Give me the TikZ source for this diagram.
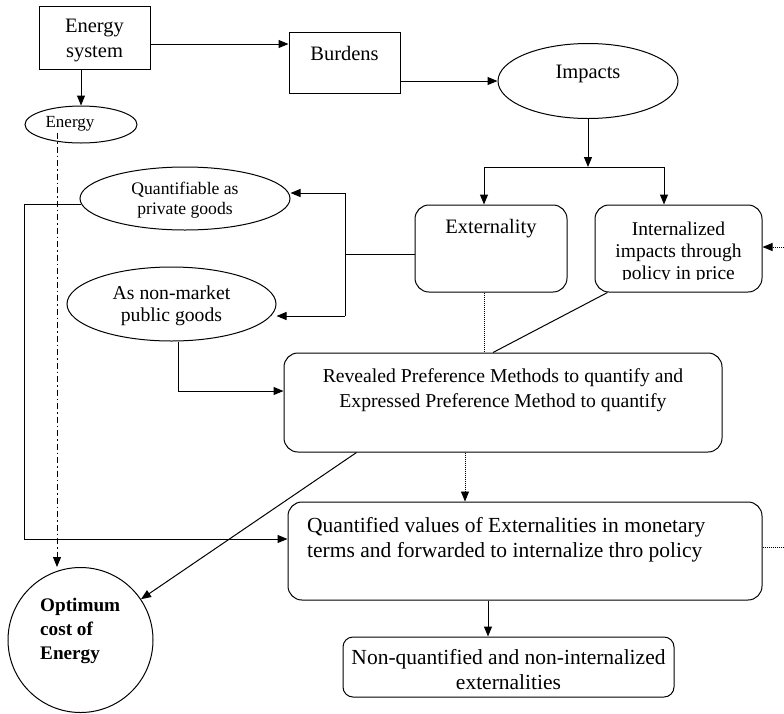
\documentclass[tikz,border=0pt]{standalone}
\usepackage{fontspec}
\setmainfont{Liberation Serif}
\usetikzlibrary{arrows.meta,shapes.geometric,calc}

\tikzset{
  line/.style={line width=1pt},
  arr/.style={line, -{Triangle[length=10pt,width=8pt]}},
  dotline/.style={line width=0.9pt, dash pattern=on 1pt off 1pt},
  dashdotline/.style={line width=1pt, dash pattern=on 6pt off 3pt on 1.5pt off 3pt},
  plainbox/.style={draw, line width=1pt, inner sep=0pt},
  roundbox/.style={plainbox, rounded corners=14pt},
  oval/.style={draw, ellipse, line width=1pt, inner sep=0pt},
  txt/.style={align=center, inner sep=0pt, font=\fontsize{20.5}{25}\selectfont},
}

\begin{document}
\begin{tikzpicture}[x=1pt,y=-1pt]
\useasboundingbox (0,0) rectangle (784,713);

% ---- shapes ----
\node[plainbox, minimum width=111pt, minimum height=63pt] (esys) at (94.5,37.5) {};
\node[plainbox, minimum width=111pt, minimum height=61pt] (burd) at (344.5,62.5) {};
\node[oval, minimum width=180pt, minimum height=75pt] (imp) at (588,81) {};
\node[oval, minimum width=112pt, minimum height=37pt] (energy) at (81,124.5) {};
\node[oval, minimum width=210pt, minimum height=63pt] (quant) at (185,198.5) {};
\node[oval, minimum width=209pt, minimum height=74pt] (nonm) at (171.5,304) {};
\node[roundbox, minimum width=152pt, minimum height=87pt] (ext) at (491,248.5) {};
\node[roundbox, minimum width=167pt, minimum height=87pt] (intz) at (678.5,248.5) {};
\node[roundbox, minimum width=438pt, minimum height=99pt] (rev) at (503,402.5) {};
\node[roundbox, minimum width=474pt, minimum height=98pt] (qv) at (525,551) {};
\node[plainbox, rounded corners=10pt, minimum width=331pt, minimum height=60pt] (nq) at (508.5,667) {};
\node[draw, circle, line width=1pt, minimum size=145pt, inner sep=0pt] (opt) at (80.5,640) {};

% ---- texts ----
\node[txt] (esyst) at (94.5,40) {Energy\\system};
\node[txt] (burdt) at (344.5,53) {Burdens};
\node[txt] (impt) at (588,74) {Impacts};
\node[txt, font=\fontsize{17}{20}\selectfont] (energyt) at (70,124) {Energy};
\node[txt, font=\fontsize{17.6}{20}\selectfont] (quantt) at (185,200) {Quantifiable as\\private goods};
\node[txt, font=\fontsize{19.7}{22}\selectfont] (nonmt) at (171.5,306) {As non-market\\public goods};
\node[txt] (extt) at (491,229) {Externality};
\begin{scope}
  \clip (intz.north west) rectangle ($(intz.south east)+(0,-13)$);
  \node[txt, font=\fontsize{19.5}{22}\selectfont] (intzt) at (678.5,253) {Internalized\\impacts through\\policy in price};
\end{scope}
\node[txt, font=\fontsize{19.7}{25}\selectfont] (revt) at (503,390.5)
  {Revealed Preference Methods to quantify and\\Expressed Preference Method to quantify};
\node[txt, align=left, anchor=west, font=\fontsize{21.5}{25}\selectfont] (qvt) at (307,539.5)
  {Quantified values of Externalities in monetary\\terms and forwarded to internalize thro policy};
\node[txt, font=\fontsize{21.5}{25}\selectfont] (nqt) at (508.5,669.5)
  {Non-quantified and non-internalized\\externalities};
\node[txt, align=left, anchor=west, font=\bfseries\fontsize{19.2}{24}\selectfont] (optt) at (40,631)
  {Optimum\\cost of\\Energy};

% ---- connectors ----
\draw[arr] ($(esys.east)+(0,6.5)$) coordinate (eb) -- (eb -| burd.west);
\draw[arr] (esys.south -| energy.north) -- (energy.north);
\draw[arr] (imp.west -| burd.east) -- (imp.west);

\coordinate (split) at (588,167);
\coordinate (splitL) at (484,167);
\coordinate (splitR) at (664,167);
\draw[arr] (imp.south) -- (split);
\draw[line] (splitL) -- (splitR);
\draw[arr] (splitL) -- (splitL |- ext.north);
\draw[arr] (splitR) -- (splitR |- intz.north);

\coordinate (fork) at (345,254);
\coordinate (forkT) at (345,193);
\coordinate (forkB) at (345,316);
\draw[line] (fork -| ext.west) -- (fork);
\draw[line] (forkT) -- (forkB);
\draw[arr] (forkT) -- (forkT -| quant.east);
\draw[arr] (forkB) -- (forkB -| nonm.east);

\draw[arr] ($(nonm.south)+(6.5,0)$) |- ($(rev.west)+(0,-11.5)$);
\draw[dotline] (ext.south -| splitL) -- (rev.north -| splitL);
\draw[line] ($(intz.south west)+(13,0)$) -- ($(rev.north)+(-10,0)$);

\draw[dotline, -{Triangle[length=10pt,width=8pt]}] ($(rev.south)+(-38,0)$) coordinate (rd) -- (rd |- qv.north);
\draw[arr] ($(rev.south west)+(73,0)$) -- (opt.34);

\draw[dashdotline, -{Triangle[length=10pt,width=8pt]}] ($(energy.center)+(-24,8.5)$) coordinate (ed) -- (ed |- opt.north);

\draw[arr] ($(quant.west)+(1,5.5)$) -- ++(-56,0) |- ($(qv.west)+(0,-12)$);

\coordinate (edgeB) at (784,547);
\coordinate (edgeA) at (784,247);
\draw[dotline] (edgeB -| qv.east) -- (edgeB);
\draw[dotline, -{Triangle[length=10pt,width=8pt]}] (edgeA) -- (edgeA -| intz.east);

\draw[arr] ($(qv.south)+(-37,0)$) coordinate (qd) -- (qd |- nq.north);
\end{tikzpicture}
\end{document}
